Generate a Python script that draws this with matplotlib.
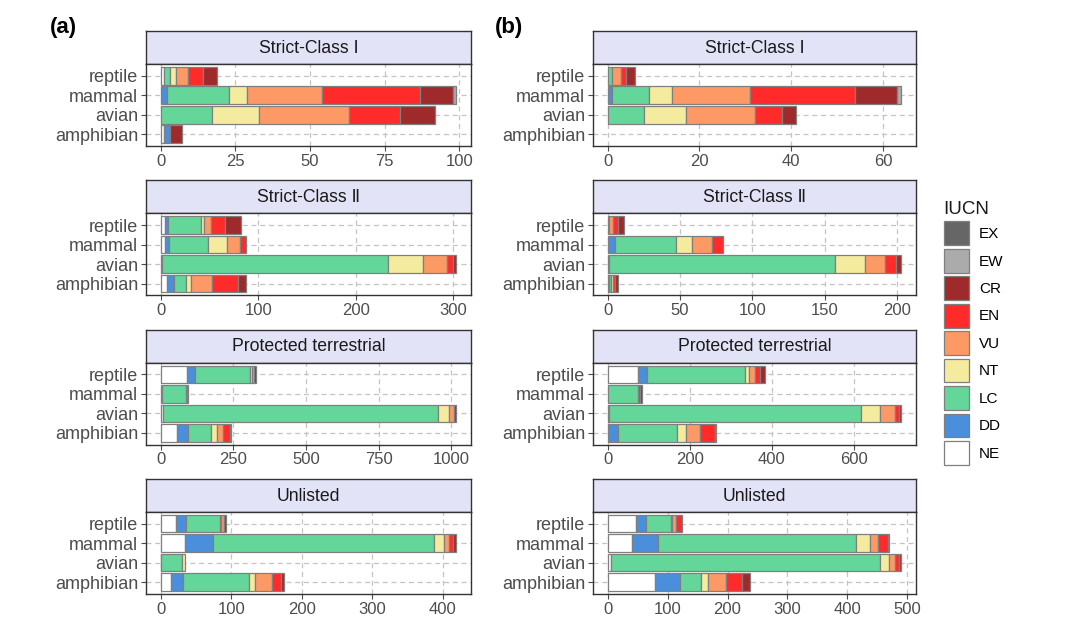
import numpy as np
import matplotlib
matplotlib.use("Agg")
from matplotlib import pyplot as plt
from matplotlib.patches import Patch

plt.rcParams['font.family'] = ['Liberation Sans', 'DejaVu Sans']

groups = ["amphibian", "avian", "mammal", "reptile"]
levels = ["NE", "DD", "LC", "NT", "VU", "EN", "CR", "EW", "EX"]
level_colors = ["#FFFFFF", "#4A8FDB", "#64D69A", "#F5EB9F", "#FC9965",
                "#FF2B2B", "#9E2A2B", "#ABABAB", "#666666"]

# counts per group (rows: amphibian, avian, mammal, reptile), columns follow levels
a_strict1 = np.array([[1, 2, 0, 0, 0, 0, 4, 0, 0],
                      [0, 0, 17, 16, 30, 17, 12, 0, 0],
                      [0, 2, 21, 6, 25, 33, 11, 1, 0],
                      [1, 0, 2, 2, 4, 5, 5, 0, 0]])
a_strict2 = np.array([[6, 8, 12, 5, 22, 26, 8, 0, 0],
                      [1, 0, 232, 36, 25, 6, 3, 0, 0],
                      [4, 4, 40, 20, 13, 6, 0, 0, 0],
                      [4, 3, 34, 3, 7, 15, 16, 0, 0]])
a_protected = np.array([[57, 36, 79, 20, 21, 25, 4, 0, 0],
                        [7, 0, 947, 38, 17, 0, 8, 0, 0],
                        [4, 0, 82, 0, 0, 0, 3, 0, 4],
                        [90, 28, 190, 6, 8, 0, 7, 0, 0]])
a_unlisted = np.array([[15, 16, 94, 9, 24, 13, 4, 0, 0],
                       [1, 0, 29, 4, 0, 0, 0, 0, 0],
                       [34, 40, 314, 14, 7, 6, 4, 0, 0],
                       [22, 14, 48, 2, 4, 0, 3, 0, 0]])

b_strict1 = np.array([[0, 0, 0, 0, 0, 0, 0, 0, 0],
                      [0, 0, 8, 9, 15, 6, 3, 0, 0],
                      [0, 1, 8, 5, 17, 23, 9, 1, 0],
                      [0, 0, 1, 0, 2, 1, 2, 0, 0]])
b_strict2 = np.array([[1, 0, 1, 2, 0, 1, 2, 0, 0],
                      [1, 0, 156, 21, 14, 7, 4, 0, 0],
                      [0, 5, 42, 11, 14, 8, 0, 0, 0],
                      [1, 0, 0, 0, 3, 3, 4, 0, 0]])
b_protected = np.array([[0, 24, 145, 22, 35, 35, 3, 0, 0],
                        [4, 0, 614, 47, 35, 11, 5, 0, 0],
                        [0, 0, 75, 0, 0, 3, 5, 0, 0],
                        [74, 23, 237, 11, 15, 12, 12, 0, 0]])
b_unlisted = np.array([[79, 41, 35, 13, 30, 26, 14, 0, 0],
                       [5, 0, 449, 15, 11, 6, 4, 0, 0],
                       [40, 44, 331, 22, 14, 16, 3, 0, 0],
                       [47, 17, 41, 3, 6, 10, 0, 0, 0]])

facet_titles = ["Strict-Class \u2160", "Strict-Class \u2161", "Protected terrestrial", "Unlisted"]
a_ticks = [[0, 25, 50, 75, 100], [0, 100, 200, 300], [0, 250, 500, 750, 1000], [0, 100, 200, 300, 400]]
b_ticks = [[0, 20, 40, 60], [0, 50, 100, 150, 200], [0, 200, 400, 600], [0, 100, 200, 300, 400, 500]]

W, H = 1080, 626
fig = plt.figure(figsize=(W / 100, H / 100), dpi=100)


def px_axes(x0, y0, x1, y1):
    # pixel box (top-left origin) -> figure axes
    return fig.add_axes([x0 / W, 1 - y1 / H, (x1 - x0) / W, (y1 - y0) / H])


def draw_facet(counts, title, ticks, x0, x1, top):
    strip = px_axes(x0, top, x1, top + 33)
    strip.set_facecolor("#E3E3F7")
    strip.set_xticks([])
    strip.set_yticks([])
    for s in strip.spines.values():
        s.set_color("#333333")
        s.set_linewidth(1.0)
    strip.text(0.5, 0.48, title, ha="center", va="center", fontsize=12.7,
               color="#1A1A1A", transform=strip.transAxes,
               family=['Liberation Sans', 'DejaVu Sans'])

    ax = px_axes(x0, top + 33, x1, top + 115)
    y = np.arange(len(groups))
    left = np.zeros(len(groups))
    for j, lev in enumerate(levels):
        w = counts[:, j]
        m = w > 0
        ax.barh(y[m], w[m], left=left[m], height=0.9, color=level_colors[j],
                edgecolor="#7F7F7F", linewidth=0.9, zorder=3)
        left = left + w
    total = counts.sum(axis=1).max()
    ax.set_xlim(-0.05 * total, 1.05 * total)
    ax.set_ylim(-0.6, len(groups) - 0.4)
    ax.set_yticks(y)
    ax.set_yticklabels(groups)
    ax.set_xticks(ticks)
    ax.grid(True, color="#C4C4C4", linestyle=(0, (4, 3)), linewidth=0.9, zorder=0)
    ax.set_axisbelow(True)
    ax.tick_params(axis="y", labelsize=13, colors="#4D4D4D", length=3.5, pad=2, width=0.8)
    ax.tick_params(axis="x", labelsize=12, colors="#4D4D4D", length=3.5, pad=2, width=0.8)
    for s in ax.spines.values():
        s.set_color("#333333")
        s.set_linewidth(1.0)
    return ax


a_panels = [a_strict1, a_strict2, a_protected, a_unlisted]
b_panels = [b_strict1, b_strict2, b_protected, b_unlisted]
for i in range(4):
    top = 31 + i * 149.3
    draw_facet(a_panels[i], facet_titles[i], a_ticks[i], 146, 471, top)
    draw_facet(b_panels[i], facet_titles[i], b_ticks[i], 593, 916, top)

fig.text(50 / W, 1 - 27 / H, "(a)", fontsize=16, fontweight="bold", ha="left", va="center")
fig.text(495 / W, 1 - 27 / H, "(b)", fontsize=16, fontweight="bold", ha="left", va="center")

handles = [Patch(facecolor=level_colors[j], edgecolor="#7F7F7F", linewidth=0.9, label=levels[j])
           for j in range(len(levels) - 1, -1, -1)]
leg = fig.legend(handles=handles, title="IUCN", loc="upper left",
                 bbox_to_anchor=(936 / W, 1 - 193 / H), frameon=False,
                 fontsize=11, title_fontsize=13.5, handlelength=1.63, handleheight=2.02,
                 labelspacing=0.24, handletextpad=0.7, borderpad=0, alignment="left")
leg.get_title().set_color("#1A1A1A")

fig.savefig("out.png", dpi=100)
